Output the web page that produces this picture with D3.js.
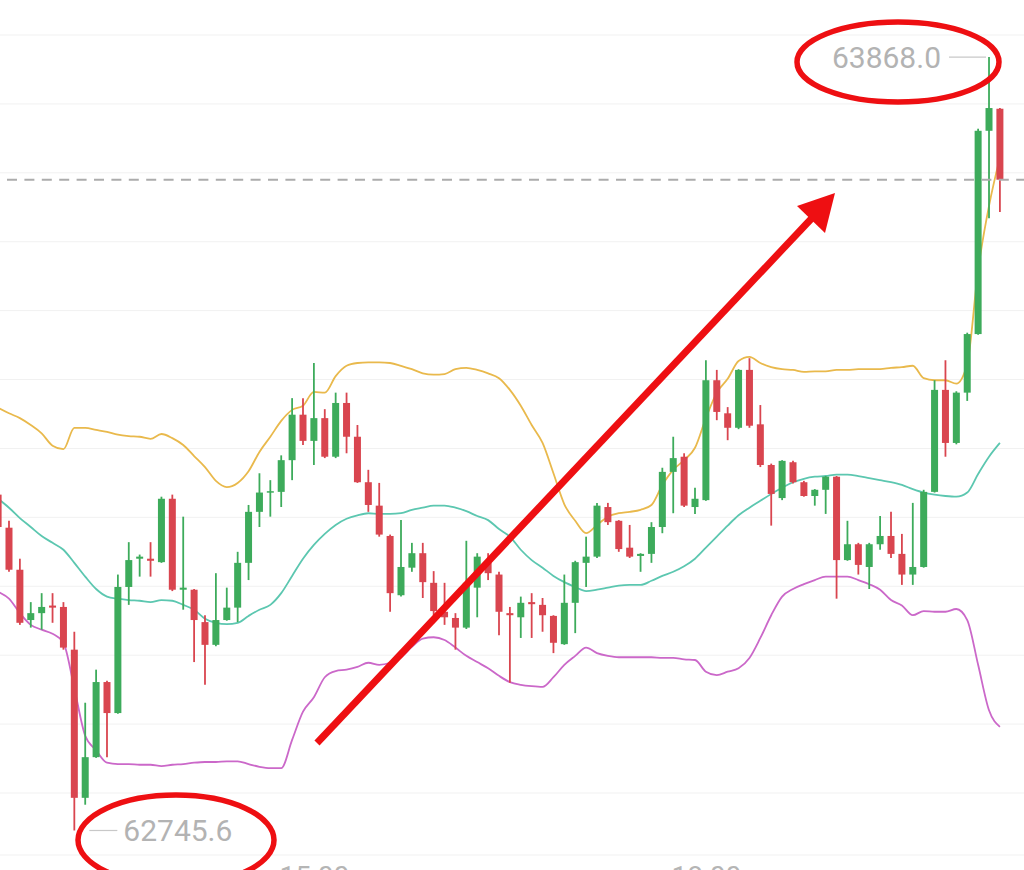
<!DOCTYPE html>
<html>
<head>
<meta charset="utf-8">
<script src="https://cdn.jsdelivr.net/npm/d3@7"></script>
<style>
  html, body { margin: 0; padding: 0; background: #ffffff; }
  svg { display: block; }
</style>
</head>
<body>
<svg id="chart" width="1024" height="870"></svg>
<script>
// ---------- DATA (5-minute candles, 12:35 .. 20:15) ----------
const startTime = "12:35";
const opens = [63233,63185,63124,63051,63061,63072,63070,63008,62793,62852,
  62961,62916,63099,63140,63140,63135,63227,63095,63095,63048,
  63015,63051,63069,63134,63208,63236,63237,63283,63349,63311,
  63344,63288,63366,63317,63251,63217,63173,63087,63127,63148,
  63105,63063,63054,63040,63098,63134,63117,63061,63055,63077,
  63073,63057,63016,63076,63134,63143,63215,63195,63156,63144,
  63147,63186,63266,63288,63215,63225,63399,63351,63330,63414,
  63335,63276,63228,63280,63251,63231,63240,63259,63138,63161,
  63128,63161,63173,63147,63117,63128,63237,63385,63308,63381,
  63466,63761,63793];
const closes = [63186,63124,63047,63061,63070,63069,63011,62793,62852,62961,
  62916,63099,63138,63143,63137,63227,63095,63098,63051,63015,
  63051,63069,63134,63208,63236,63238,63283,63349,63311,63344,
  63288,63366,63317,63251,63218,63175,63090,63128,63148,63106,
  63064,63055,63040,63105,63143,63119,63063,63058,63076,63074,
  63058,63018,63076,63135,63143,63217,63193,63154,63143,63147,
  63186,63266,63286,63217,63227,63399,63353,63330,63414,63333,
  63276,63234,63282,63251,63231,63240,63259,63138,63161,63131,
  63161,63173,63147,63117,63128,63237,63385,63308,63381,63466,
  63761,63794,63690];
const highs = [63240,63195,63140,63077,63090,63090,63077,63034,62931,62979,
  62963,63117,63164,63146,63164,63230,63233,63201,63096,63058,
  63119,63098,63150,63218,63264,63254,63290,63373,63373,63424,
  63357,63381,63381,63334,63269,63250,63175,63196,63163,63163,
  63122,63105,63061,63166,63148,63148,63121,63070,63085,63090,
  63083,63058,63117,63137,63172,63221,63221,63196,63189,63148,
  63193,63272,63317,63293,63243,63428,63414,63360,63415,63431,
  63363,63278,63283,63282,63253,63241,63260,63260,63195,63163,
  63163,63202,63208,63176,63221,63240,63399,63428,63383,63468,
  63764,63868.0,63794];
const lows = [63182,63121,63044,63040,63037,63047,63008,62745.6,62783,62851,
  62852,62915,63073,63114,63114,63134,63093,63066,62990,62957,
  63013,63050,63048,63109,63186,63201,63215,63254,63305,63276,
  63286,63286,63293,63250,63208,63172,63063,63085,63121,63083,
  63058,63044,63008,63038,63055,63109,63029,62960,63025,63025,
  63034,63003,63015,63032,63099,63141,63189,63150,63141,63121,
  63134,63177,63206,63215,63205,63224,63341,63312,63328,63330,
  63273,63188,63225,63249,63230,63217,63205,63082,63137,63117,
  63096,63153,63141,63102,63102,63127,63236,63288,63306,63369,
  63465,63634,63643];
const bollUpper = [63359,63351,63344,63334,63322,63304,63299,63330,63330,63327,
  63324,63320,63318,63317,63314,63321,63315,63305,63289,63273,
  63253,63244,63250,63267,63295,63317,63340,63356,63362,63382,
  63381,63405,63420,63424,63425,63425,63424,63420,63415,63409,
  63407,63408,63415,63417,63414,63409,63402,63385,63362,63334,
  63308,63264,63219,63195,63177,63189,63201,63206,63208,63211,
  63218,63247,63269,63283,63301,63344,63381,63401,63427,63433,
  63424,63418,63415,63414,63411,63412,63412,63414,63414,63415,
  63415,63415,63417,63418,63420,63402,63399,63399,63394,63423,
  63559,63652,63722];
const bollMid = [63227,63214,63199,63186,63173,63163,63153,63134,63114,63096,
  63085,63082,63080,63079,63077,63080,63079,63073,63066,63053,
  63047,63045,63047,63057,63066,63073,63090,63115,63140,63160,
  63176,63189,63198,63203,63206,63205,63205,63206,63211,63214,
  63217,63217,63214,63209,63202,63196,63183,63172,63153,63138,
  63127,63115,63106,63099,63093,63095,63098,63101,63102,63102,
  63108,63115,63121,63129,63140,63156,63172,63188,63203,63214,
  63224,63234,63243,63251,63256,63259,63260,63262,63262,63260,
  63257,63254,63251,63247,63241,63236,63233,63231,63230,63236,
  63263,63288,63308];
const bollLower = [63092,63082,63061,63044,63037,63031,63018,62952,62883,62862,
  62844,62842,62842,62841,62841,62839,62841,62842,62844,62845,
  62845,62846,62846,62842,62838,62836,62836,62877,62918,62939,
  62968,62977,62979,62983,62989,62986,62989,62997,63012,63024,
  63026,63022,63011,62999,62990,62981,62970,62961,62957,62955,
  62954,62968,62986,62999,63011,63003,62999,62997,62997,62997,
  62997,62996,62996,62994,62993,62976,62971,62976,62981,62996,
  63025,63058,63085,63096,63103,63109,63114,63114,63114,63109,
  63103,63095,63080,63072,63058,63064,63063,63063,63067,63051,
  62986,62920,62896];
const xTickLabels = ["15:00", "18:00"];
const yGridValues = [62800,62900,63000,63100,63200,63300,63400,63500,63600,63700,63800,63900];
const maxLabel = "63868.0";
const minLabel = "62745.6";

// ---------- derived categories ----------
const parseT = d3.timeParse("%H:%M"), fmtT = d3.timeFormat("%H:%M");
const t0 = parseT(startTime);
const times = opens.map((_, i) => fmtT(d3.timeMinute.offset(t0, 5 * i)));
const candles = opens.map((o, i) => ({ i, t: times[i], o, h: highs[i], l: lows[i], c: closes[i] }));

// ---------- scales ----------
const W = 1024, H = 870;
const x = d3.scaleLinear().domain([0, opens.length - 1]).range([-1.9, 999.9]);
const y = d3.scaleLinear().domain([62800, 63900]).range([793, 35]);
const svg = d3.select("#chart");

const UP = "#3dab5b", DOWN = "#d9454f";

// gridlines
svg.append("g").selectAll("line").data(yGridValues).join("line")
  .attr("x1", 0).attr("x2", W)
  .attr("y1", d => y(d)).attr("y2", d => y(d))
  .attr("stroke", "#f1f1f1").attr("stroke-width", 1);

// x axis (labels sit at the bottom edge, partly cropped as in the screenshot)
const xAxis = svg.append("g").attr("transform", "translate(0,855)")
  .call(d3.axisBottom(x)
    .tickValues(xTickLabels.map(l => times.indexOf(l)))
    .tickFormat(i => times[i]).tickSize(0).tickPadding(11));
xAxis.select(".domain").attr("stroke", "#f1f1f1").attr("d", `M0,0H${W}`);
xAxis.selectAll("text").attr("fill", "#b5b5b5")
  .style("font-family", "Roboto, 'Noto Sans', sans-serif").style("font-size", "28px");

// Bollinger lines
const line = d3.line().x((d, i) => x(i)).y(d => y(d)).curve(d3.curveMonotoneX);
[[bollUpper, "#e9b94c"], [bollMid, "#5cc7b0"], [bollLower, "#cb68c9"]].forEach(([arr, col]) => {
  svg.append("path").datum(arr).attr("d", line)
    .attr("fill", "none").attr("stroke", col).attr("stroke-width", 1.8);
});

// candles
const cg = svg.append("g").selectAll("g").data(candles).join("g");
cg.append("line")
  .attr("x1", d => x(d.i)).attr("x2", d => x(d.i))
  .attr("y1", d => y(d.h)).attr("y2", d => y(d.l))
  .attr("stroke", d => d.c >= d.o ? UP : DOWN).attr("stroke-width", 1.8);
cg.append("rect")
  .attr("x", d => x(d.i) - 3.5).attr("width", 7)
  .attr("y", d => y(Math.max(d.o, d.c)))
  .attr("height", d => Math.max(1.5, Math.abs(y(d.o) - y(d.c))))
  .attr("fill", d => d.c >= d.o ? UP : DOWN);

// last price dashed line
const last = candles[candles.length - 1];
svg.append("line")
  .attr("x1", 7).attr("x2", W).attr("y1", y(last.c)).attr("y2", y(last.c))
  .attr("stroke", "#acacac").attr("stroke-width", 2).attr("stroke-dasharray", "10,7.4");

// max / min labels
const hiIdx = d3.maxIndex(highs), loIdx = d3.minIndex(lows);
const lblFont = "Roboto, 'Noto Sans', sans-serif";
svg.append("line").attr("x1", x(hiIdx) - 40).attr("x2", x(hiIdx) - 3)
  .attr("y1", y(highs[hiIdx])).attr("y2", y(highs[hiIdx]))
  .attr("stroke", "#c8c8c8").attr("stroke-width", 1.2);
svg.append("text").attr("x", x(hiIdx) - 48).attr("y", y(highs[hiIdx]))
  .attr("text-anchor", "end").attr("dominant-baseline", "central")
  .attr("fill", "#b3b3b3").style("font-family", lblFont).style("font-size", "30px")
  .text(maxLabel);
svg.append("line").attr("x1", x(loIdx) + 15).attr("x2", x(loIdx) + 43)
  .attr("y1", y(lows[loIdx])).attr("y2", y(lows[loIdx]))
  .attr("stroke", "#c8c8c8").attr("stroke-width", 1.2);
svg.append("text").attr("x", x(loIdx) + 49).attr("y", y(lows[loIdx]))
  .attr("text-anchor", "start").attr("dominant-baseline", "central")
  .attr("fill", "#b3b3b3").style("font-family", lblFont).style("font-size", "30px")
  .text(minLabel);

// red annotations (hand-drawn marks on the screenshot)
const RED = "#ee0f12";
svg.append("ellipse").attr("cx", 898).attr("cy", 62).attr("rx", 101).attr("ry", 40)
  .attr("fill", "none").attr("stroke", RED).attr("stroke-width", 5.5);
svg.append("ellipse").attr("cx", 176).attr("cy", 840).attr("rx", 98).attr("ry", 45)
  .attr("fill", "none").attr("stroke", RED).attr("stroke-width", 5.5);
svg.append("line").attr("x1", 317).attr("y1", 743).attr("x2", 812).attr("y2", 218)
  .attr("stroke", RED).attr("stroke-width", 7);
svg.append("path").attr("d", "M835,193 L797,206 L825,233 Z").attr("fill", RED);
</script>
</body>
</html>
